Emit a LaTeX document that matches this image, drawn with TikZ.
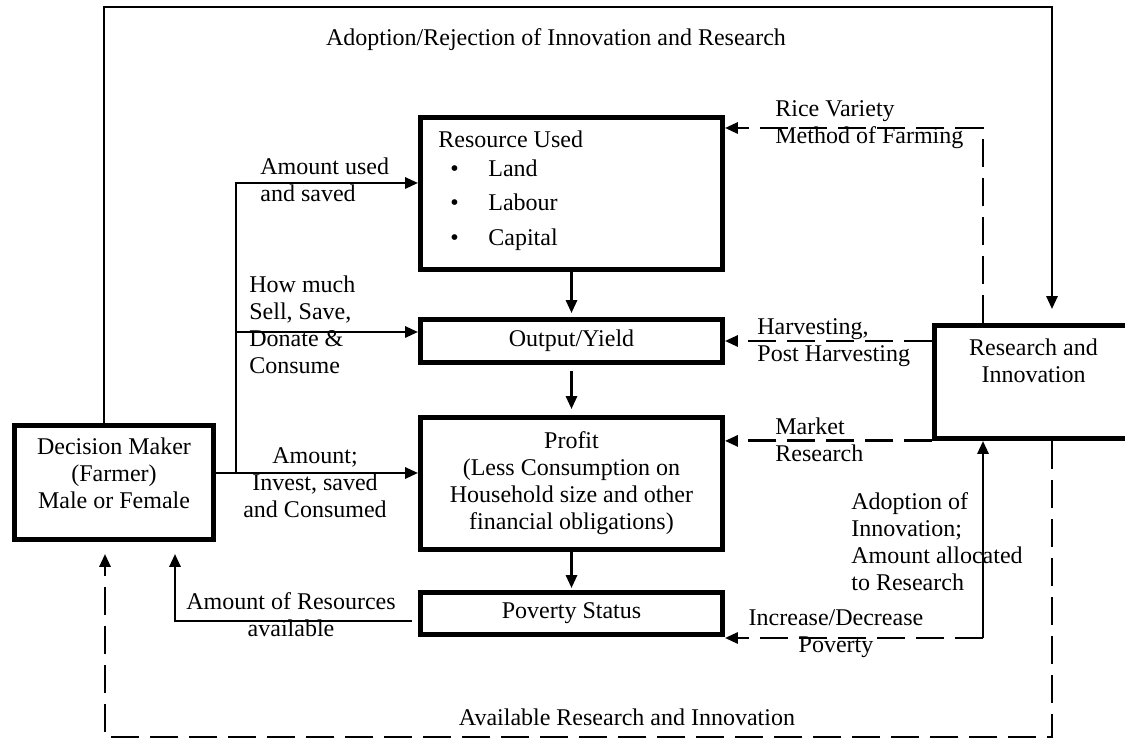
\documentclass[tikz,border=0pt]{standalone}
\usepackage{fontspec}
\setmainfont{Liberation Serif}
\usepackage{tikz}
\usetikzlibrary{arrows.meta}

\begin{document}
\begin{tikzpicture}[->,>={Triangle[length=6.5pt,width=5.5pt]},line width=1.4pt,
                    x=0.5pt,y=-0.5pt,font=\fontsize{12}{13.5}\selectfont]
  \tikzstyle{box}=[draw,line width=2.4pt,inner sep=2pt,align=center]
  \tikzstyle{lbl}=[inner sep=0pt]
  \tikzstyle{dashline}=[dash pattern=on 14pt off 5.5pt]

  \fill[white,-] (0,0) rectangle (1125,742);
  \useasboundingbox (0,0) rectangle (1125,742);

  % boxes
  \node[box,minimum width=99.5pt,minimum height=57pt,text depth=9pt]
        (dm)  at (114,482.5) {Decision Maker\\(Farmer)\\Male or Female};
  \node[box,minimum width=151pt,minimum height=76pt]
        (res) at (571.5,193.5) {};
  \node[box,minimum width=151pt,minimum height=21.5pt]
        (out) at (571.5,341) {Output/Yield};
  \node[box,minimum width=151pt,minimum height=66pt]
        (pr)  at (571.5,483.5) {Profit\\(Less Consumption on\\Household size and other\\financial obligations)};
  \node[box,minimum width=151pt,minimum height=21pt]
        (pov) at (571.5,613.5) {Poverty Status};
  \node[box,minimum width=99pt,minimum height=56.5pt,text depth=21pt]
        (ri)  at (1033.5,382) {Research and\\Innovation};

  \node[lbl,anchor=north west,align=left] (reslist) at (437,129)
        {Resource Used\\[1pt]
         \hspace*{6pt}\makebox[19pt][l]{\textbullet}Land\\[3.5pt]
         \hspace*{6pt}\makebox[19pt][l]{\textbullet}Labour\\[4pt]
         \hspace*{6pt}\makebox[19pt][l]{\textbullet}Capital};

  % bends
  \coordinate (tr)  at (1052,7);
  \coordinate (br)  at (236,473);
  \coordinate (up)  at (236,183);
  \coordinate (mid) at (236,332);
  \coordinate (rv)  at (983,128);
  \coordinate (pv)  at (983,638);
  \coordinate (ar)  at (175,621);
  \coordinate (bl)  at (105,737);
  \coordinate (bc)  at (1052,737);

  % labels
  \node[lbl] (title) at (556,40) {Adoption/Rejection of Innovation and Research};
  \node[lbl,anchor=west,align=left] (usedlbl) at (259,180) {Amount used\\and saved};
  \node[lbl,anchor=west,align=left] (selllbl) at (248,325) {How much\\Sell, Save,\\Donate \&\\Consume};
  \node[lbl,align=center] (investlbl) at (315,483) {Amount;\\Invest, saved\\and Consumed};
  \node[lbl,align=center] (availlbl) at (291,615) {Amount of Resources\\available};
  \node[lbl,anchor=west,align=left] (ricelbl) at (774,125) {Rice Variety\\Method of Farming};
  \node[lbl,anchor=west,align=left] (harvlbl) at (756,343) {Harvesting,\\Post Harvesting};
  \node[lbl,anchor=west,align=left] (marklbl) at (774,440) {Market\\Research};
  \node[lbl,anchor=west,align=left] (adoptlbl) at (850,542) {Adoption of\\Innovation;\\Amount allocated\\to Research};
  \node[lbl,align=center] (povlbl) at (836,634) {Increase/Decrease\\Poverty};
  \node[lbl] (bottomlbl) at (627,717) {Available Research and Innovation};

  % solid connectors
  \draw[shorten >=7pt] ([xshift=-5pt]dm.north) |- (tr) -- (tr |- ri.north);
  \draw (dm.east |- br) -- (br -| pr.west);
  \draw (br) -- (up) -- (up -| res.west);
  \draw (mid) -- (mid -| out.west);
  \draw[shorten >=2pt] (res.south) -- (out.north);
  \draw[shorten <=3pt,shorten >=3pt] (out.south) -- (pr.north);
  \draw[shorten >=1pt] (pr.south) -- (pov.north);
  \draw[shorten <=3pt,shorten >=6pt] (ar -| pov.west) -- (ar) -- (ar |- dm.south);
  \draw (pv) -- (pv |- ri.south);

  % dashed connectors
  \draw[dashline] (rv |- ri.north) -- (rv) -- (rv -| res.east);
  \draw[dashline] (ri.west |- out.east) -- (out.east);
  \draw[dashline] (ri.south west) -- (ri.south west -| pr.east);
  \draw[dashline] (pv) -- (pv -| pov.east);
  \draw[dashline,shorten >=6pt] (bc |- ri.south) -- (bc) -- (bl) -- (bl |- dm.south);
\end{tikzpicture}
\end{document}
